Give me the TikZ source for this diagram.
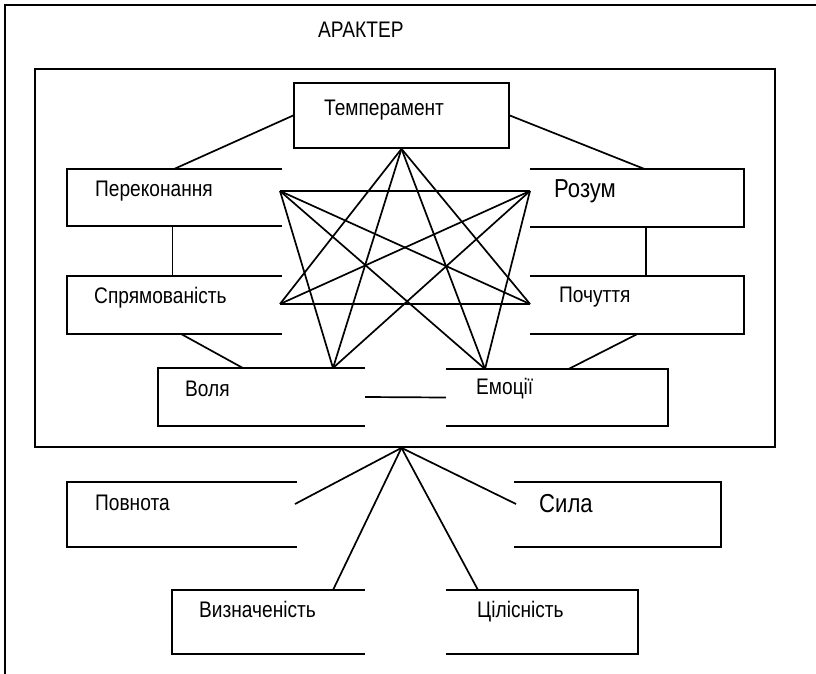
\documentclass[tikz,border=0pt]{standalone}
\usepackage{fontspec}
\setmainfont{Liberation Sans}[FakeStretch=0.85]
\usetikzlibrary{calc}

\begin{document}
\begin{tikzpicture}[x=1pt, y=-1pt,
  every node/.style={font=\fontsize{22.5}{26}\selectfont},
  slot/.style 2 args={minimum width=#1, minimum height=#2, inner sep=0pt},
  txt/.style={anchor=base west, inner sep=0pt},
  big/.style={font=\fontsize{26}{30}\selectfont},
  edge/.style={line width=1.7pt},
]
\useasboundingbox (0,0) rectangle (816,674);

%% Outer frame (left and top only)
\draw[edge] (5,674) -- (5,5) -- (816,5);
\node[txt] (title) at (318,38) {АРАКТЕР};

%% Inner frame
\node[slot={740pt}{378pt}, draw, line width=1.7pt] (inner) at (405,258) {};

%% Boxes
\node[slot={215pt}{65pt}, draw, line width=1.7pt] (temp) at (401.5,115.5) {};
\node[slot={215pt}{57pt}] (perek)  at (174.5,197.5) {};
\node[slot={214pt}{58pt}] (rozum)  at (637,198)     {};
\node[slot={215pt}{58pt}] (spry)   at (174.5,305)   {};
\node[slot={214pt}{58pt}] (pochut) at (637,305)     {};
\node[slot={207pt}{58pt}] (volia)  at (261.5,397)   {};
\node[slot={222pt}{57pt}] (emocii) at (557,397.5)   {};

%% Outside boxes
\node[slot={230pt}{65pt}] (povnota) at (182,514.5)   {};
\node[slot={207pt}{65pt}] (syla)    at (617.5,514.5) {};
\node[slot={193pt}{64pt}] (vyzn)    at (268.5,622)   {};
\node[slot={192pt}{64pt}] (tsil)    at (542,622)     {};

%% Box sides (open towards the middle)
\draw[edge] (perek.north east) -- (perek.north west) -- (perek.south west) -- (perek.south east);
\draw[edge] (spry.north east) -- (spry.north west) -- (spry.south west) -- (spry.south east);
\draw[edge] (volia.north east) -- (volia.north west) -- (volia.south west) -- (volia.south east);
\draw[edge] (povnota.north east) -- (povnota.north west) -- (povnota.south west) -- (povnota.south east);
\draw[edge] (vyzn.north east) -- (vyzn.north west) -- (vyzn.south west) -- (vyzn.south east);
\draw[edge] (rozum.north west) -- (rozum.north east) -- (rozum.south east) -- (rozum.south west);
\draw[edge] (pochut.north west) -- (pochut.north east) -- (pochut.south east) -- (pochut.south west);
\draw[edge] (emocii.north west) -- (emocii.north east) -- (emocii.south east) -- (emocii.south west);
\draw[edge] (syla.north west) -- (syla.north east) -- (syla.south east) -- (syla.south west);
\draw[edge] (tsil.north west) -- (tsil.north east) -- (tsil.south east) -- (tsil.south west);

%% Labels
\node[txt] (temp-t)    at (324,116) {Темперамент};
\node[txt] (perek-t)   at (95,196)  {Переконання};
\node[txt, big] (rozum-t) at (554,197) {Розум};
\node[txt] (spry-t)    at (94,303)  {Спрямованість};
\node[txt] (pochut-t)  at (559,302) {Почуття};
\node[txt] (volia-t)   at (185,396) {Воля};
\node[txt] (emocii-t)  at (476,394) {Емоції};
\node[txt] (povnota-t) at (95,510)  {Повнота};
\node[txt, big] (syla-t) at (539,512) {Сила};
\node[txt] (vyzn-t)    at (199,617) {Визначеність};
\node[txt] (tsil-t)    at (477,617) {Цілісність};

%% Ring of links
\draw[edge] (temp.west) -- (perek.north);
\draw[edge] (temp.east) -- ([xshift=7pt]rozum.north);
\draw[edge] ([xshift=-2pt]perek.south) -- ([xshift=-2pt]spry.north);
\draw[edge] ([xshift=9pt]rozum.south) -- ([xshift=9pt]pochut.north);
\draw[edge] ([xshift=7pt]spry.south) -- ([xshift=-19pt]volia.north);
\draw[edge] (pochut.south) -- ([xshift=12pt]emocii.north);
\draw[edge] (volia.east) -- (emocii.west);

%% Star in the middle
\coordinate (sA) at (280,191);
\coordinate (sB) at (530,191);
\coordinate (sC) at (280,304);
\coordinate (sD) at (530,304);
\coordinate (sE) at (333,368);
\coordinate (sF) at (485,369);
\draw[edge] (sA) -- (sB);
\draw[edge] (sC) -- (sD);
\draw[edge] (sA) -- (sD);
\draw[edge] (sC) -- (sB);
\draw[edge] (sA) -- (sE);
\draw[edge] (sA) -- (sF);
\draw[edge] (sB) -- (sE);
\draw[edge] (sB) -- (sF);
\draw[edge] (temp.south) -- (sC);
\draw[edge] (temp.south) -- (sD);
\draw[edge] (temp.south) -- (sE);
\draw[edge] (temp.south) -- (sF);

%% Traits below the frame
\coordinate (hub) at (temp.south |- inner.south);
\coordinate (pv) at (295,504);
\coordinate (sl) at (516,504);
\coordinate (vz) at (333,590);
\coordinate (cl) at (478,590);
\draw[edge] (hub) -- (pv);
\draw[edge] (hub) -- (sl);
\draw[edge] (hub) -- (vz);
\draw[edge] (hub) -- (cl);

\end{tikzpicture}
\end{document}
